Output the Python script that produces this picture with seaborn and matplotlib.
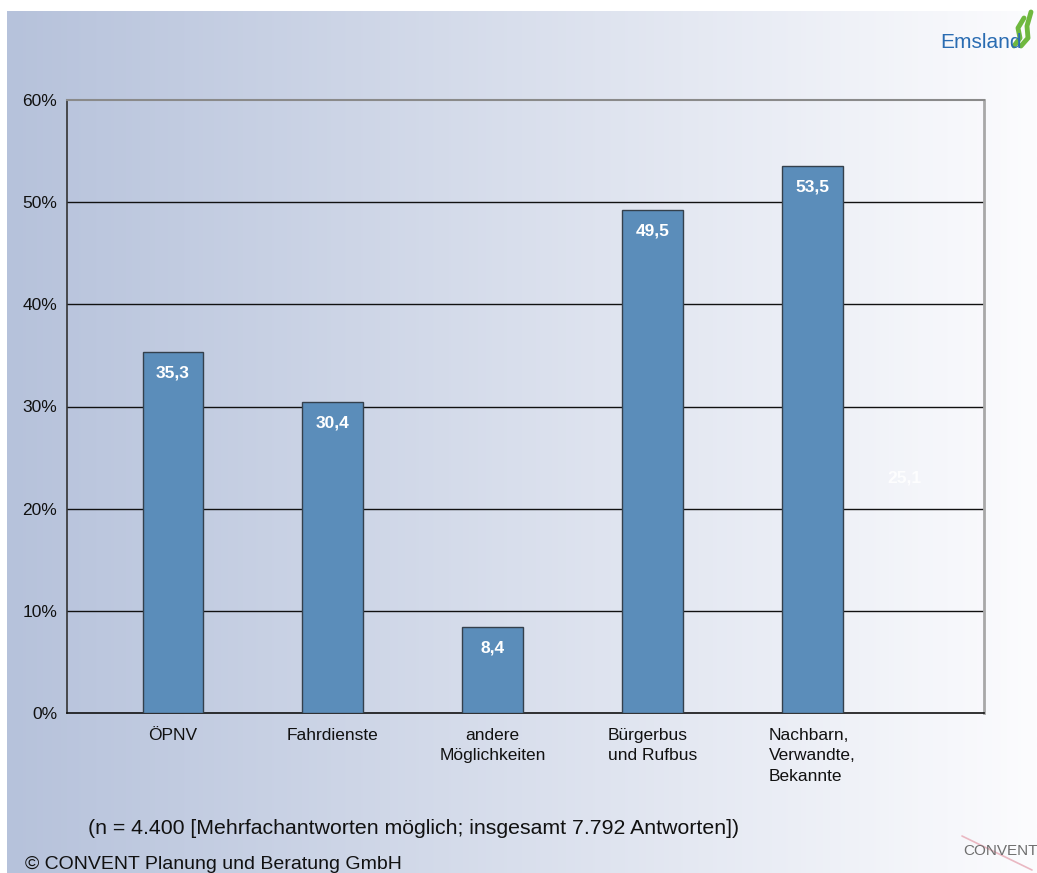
"""
Nutzung von Mobilitätsangeboten - Balkendiagramm (Emsland / CONVENT)
"""
import numpy as np
import matplotlib
matplotlib.use("Agg")
import matplotlib.pyplot as plt
from matplotlib.lines import Line2D
import seaborn as sns

# Data
categories = ["ÖPNV", "Fahrdienste", "andere\nMöglichkeiten",
              "Bürgerbus\nund Rufbus", "Nachbarn,\nVerwandte,\nBekannte"]
values = [35.3, 30.4, 8.4, 49.2, 53.5]
value_labels = ["35,3", "30,4", "8,4", "49,5", "53,5"]
label_align = ["center", "center", "center", "left", "left"]
ghost_value = 25.1
ghost_label = "25,1"
y_ticks = [0, 10, 20, 30, 40, 50, 60]
footnote = "(n = 4.400 [Mehrfachantworten möglich; insgesamt 7.792 Antworten])"
copyright_text = "© CONVENT Planung und Beratung GmbH"

W, H = 1037, 873
BAR_COLOR = "#5b8dba"

sns.set_style("white")
plt.rcParams["font.family"] = ["Liberation Sans", "DejaVu Sans"]

fig = plt.figure(figsize=(W / 100, H / 100), dpi=100)
fig.patch.set_facecolor("white")

# slide background gradient (left blue-grey -> right white)
bg = fig.add_axes([7 / W, 0, 1 - 7 / W, 1 - 11 / H])
left_c = np.array([182, 194, 219]) / 255
right_c = np.array([252, 252, 254]) / 255
t = np.linspace(0, 1, 512)[None, :, None]
grad = left_c[None, None, :] * (1 - t) + right_c[None, None, :] * t
bg.imshow(grad, aspect="auto", extent=[0, 1, 0, 1])
bg.axis("off")

# main chart
ax = fig.add_axes([67 / W, 1 - 713 / H, (984 - 67) / W, (713 - 100) / H])
ax.patch.set_alpha(0)
sns.barplot(x=categories, y=values, color=BAR_COLOR, width=0.38,
            edgecolor="#34404c", linewidth=1.0, saturation=1, ax=ax, zorder=3)

xl, xr = -0.6625, 5.075
ax.set_xlim(xl, xr)
ax.set_ylim(0, 60)

ax.set_yticks(y_ticks)
ax.set_yticklabels([f"{v}%" for v in y_ticks], fontsize=12.5)
for v in y_ticks[1:-1]:
    ax.axhline(v, color="#111111", lw=1.0, zorder=1)

ax.set_xticks(range(len(categories)))
ax.set_xticklabels([])
ax.set_xticks(np.linspace(xl, xr, 7), minor=True)
ax.tick_params(axis="x", which="major", length=0)
ax.tick_params(axis="x", which="minor", length=5, width=1, color="#222222", direction="out")
ax.tick_params(axis="y", length=5, width=1, color="#222222", direction="out", pad=2, labelcolor="#111111")
ax.set_xlabel("")
ax.set_ylabel("")

for i, (lab, al) in enumerate(zip(categories, label_align)):
    ax.annotate(lab, xy=(i, 0), xycoords="data", xytext=(0, -15), textcoords="offset pixels",
                ha="center", va="top", multialignment=al, fontsize=12.5,
                linespacing=1.45, color="#111111", annotation_clip=False)

for i, (v, lab) in enumerate(zip(values, value_labels)):
    ax.annotate(lab, xy=(i, v), xytext=(0, -21), textcoords="offset pixels",
                ha="center", va="center", color="white", fontsize=12.5,
                fontweight="bold", zorder=5)

ax.annotate(ghost_label, xy=(4.575, ghost_value), xytext=(0, -21), textcoords="offset pixels",
            ha="center", va="center", color="white", alpha=0.85, fontsize=12.5,
            fontweight="bold")

for side in ["left", "bottom", "top", "right"]:
    ax.spines[side].set_visible(True)
ax.spines["left"].set_color("#333333")
ax.spines["left"].set_linewidth(1.2)
ax.spines["bottom"].set_color("#111111")
ax.spines["bottom"].set_linewidth(1.2)
ax.spines["top"].set_color("#8a8a8a")
ax.spines["top"].set_linewidth(1.5)
ax.spines["right"].set_color("#a8a8a8")
ax.spines["right"].set_linewidth(2)

# footnotes
fig.text(88 / W, 1 - 829 / H, footnote, fontsize=15.3, va="center", ha="left", color="#111111")
fig.text(25 / W, 1 - 869 / H, copyright_text, fontsize=14, va="baseline", ha="left", color="#111111")

# Emsland logo
fig.text(940 / W, 1 - 43 / H, "Emsland", fontsize=15, color="#2a6cb2", va="center",
         ha="left")
for pts in ([(1014, 46), (1020, 38), (1018, 28), (1024, 18)],
            [(1021, 46), (1028, 38), (1027, 26), (1031, 12)]):
    xs = [p[0] / W for p in pts]
    ys = [1 - p[1] / H for p in pts]
    fig.add_artist(Line2D(xs, ys, color="#6fb83f", lw=3.5, solid_capstyle="round"))

# CONVENT logo
fig.add_artist(Line2D([962 / W, 1032 / W], [1 - 836 / H, 1 - 870 / H], color="#eab8c2", lw=1.2))
fig.text(1001 / W, 1 - 851 / H, "CONVENT", fontsize=11, color="#6e6e6e", va="center",
         ha="center")

fig.savefig("out.png", dpi=100)
